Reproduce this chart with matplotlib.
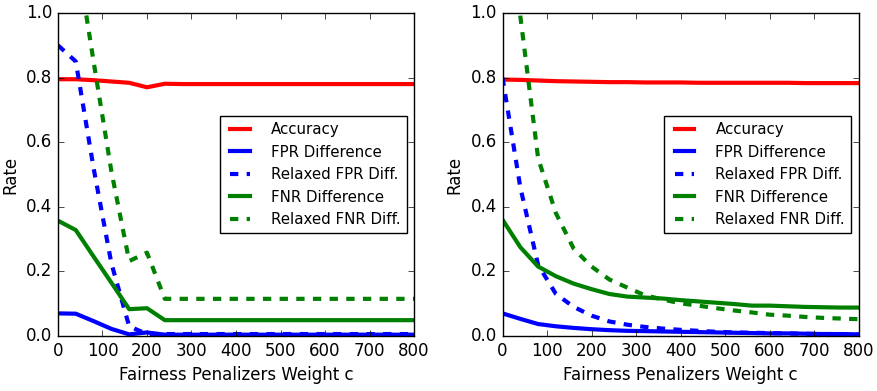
import matplotlib
matplotlib.use("Agg")
import matplotlib.pyplot as plt

# penalty weights c
c_vals = [0, 40, 80, 120, 160, 200, 240, 280, 320, 360, 400,
          440, 480, 520, 560, 600, 640, 680, 720, 760, 800]

# left panel
acc_l = [0.795, 0.795, 0.792, 0.788, 0.784, 0.770, 0.781, 0.780, 0.780, 0.780, 0.780,
         0.780, 0.780, 0.780, 0.780, 0.780, 0.780, 0.780, 0.780, 0.780, 0.780]
fpr_l = [0.070, 0.069, 0.046, 0.022, 0.005, 0.011, 0.004, 0.004, 0.004, 0.004, 0.004,
         0.004, 0.004, 0.004, 0.004, 0.004, 0.004, 0.004, 0.004, 0.004, 0.004]
rfpr_l = [0.900, 0.850, 0.520, 0.225, 0.030, 0.006, 0.006, 0.006, 0.006, 0.006, 0.006,
          0.006, 0.006, 0.006, 0.006, 0.006, 0.006, 0.006, 0.006, 0.006, 0.006]
fnr_l = [0.357, 0.328, 0.246, 0.165, 0.083, 0.086, 0.049, 0.049, 0.049, 0.049, 0.049,
         0.049, 0.049, 0.049, 0.049, 0.049, 0.049, 0.049, 0.049, 0.049, 0.049]
rfnr_l = [1.600, 1.200, 0.850, 0.510, 0.232, 0.258, 0.115, 0.115, 0.115, 0.115, 0.115,
          0.115, 0.115, 0.115, 0.115, 0.115, 0.115, 0.115, 0.115, 0.115, 0.115]

# right panel
acc_r = [0.794, 0.793, 0.791, 0.789, 0.788, 0.787, 0.786, 0.786, 0.785, 0.785, 0.785,
         0.784, 0.784, 0.784, 0.784, 0.784, 0.784, 0.783, 0.783, 0.783, 0.783]
fpr_r = [0.070, 0.053, 0.037, 0.030, 0.025, 0.021, 0.018, 0.016, 0.015, 0.014, 0.013,
         0.012, 0.011, 0.010, 0.009, 0.008, 0.008, 0.007, 0.006, 0.006, 0.005]
rfpr_r = [0.800, 0.460, 0.220, 0.130, 0.090, 0.063, 0.045, 0.035, 0.028, 0.023, 0.019,
          0.016, 0.013, 0.011, 0.010, 0.009, 0.008, 0.007, 0.006, 0.006, 0.005]
fnr_r = [0.360, 0.275, 0.215, 0.185, 0.162, 0.145, 0.130, 0.122, 0.119, 0.116, 0.111,
         0.107, 0.103, 0.099, 0.094, 0.094, 0.092, 0.090, 0.089, 0.088, 0.088]
rfnr_r = [1.600, 0.990, 0.550, 0.380, 0.270, 0.215, 0.175, 0.150, 0.126, 0.113, 0.101,
          0.094, 0.086, 0.079, 0.073, 0.066, 0.063, 0.059, 0.056, 0.054, 0.052]

labels = ["Accuracy", "FPR Difference", "Relaxed FPR Diff.",
          "FNR Difference", "Relaxed FNR Diff."]


def draw_panel(ax, acc, fpr, rfpr, fnr, rfnr):
    ax.plot(c_vals, acc, 'r-', lw=3, label=labels[0])
    ax.plot(c_vals, fpr, 'b-', lw=3, label=labels[1])
    ax.plot(c_vals, rfpr, 'b--', lw=3, label=labels[2])
    ax.plot(c_vals, fnr, 'g-', lw=3, label=labels[3])
    ax.plot(c_vals, rfnr, 'g--', lw=3, label=labels[4])
    ax.set_xlim(0, 800)
    ax.set_ylim(0, 1.0)
    ax.set_xticks(range(0, 801, 100))
    ax.set_yticks([0.0, 0.2, 0.4, 0.6, 0.8, 1.0])
    ax.set_xlabel("Fairness Penalizers Weight c")
    ax.set_ylabel("Rate")
    ax.legend(loc='center right', fontsize=10.8, handletextpad=1.1,
              handlelength=1.9)


plt.style.use('classic')
plt.rcParams['figure.facecolor'] = 'white'
plt.rcParams['savefig.facecolor'] = 'white'
plt.rcParams['font.size'] = 12

fig = plt.figure(figsize=(8.77, 3.91), dpi=100)
ax1 = fig.add_axes([0.0661, 0.1407, 0.406, 0.826])
ax2 = fig.add_axes([0.573, 0.1407, 0.406, 0.826])

draw_panel(ax1, acc_l, fpr_l, rfpr_l, fnr_l, rfnr_l)
draw_panel(ax2, acc_r, fpr_r, rfpr_r, fnr_r, rfnr_r)

fig.savefig("out.png", dpi=100)
